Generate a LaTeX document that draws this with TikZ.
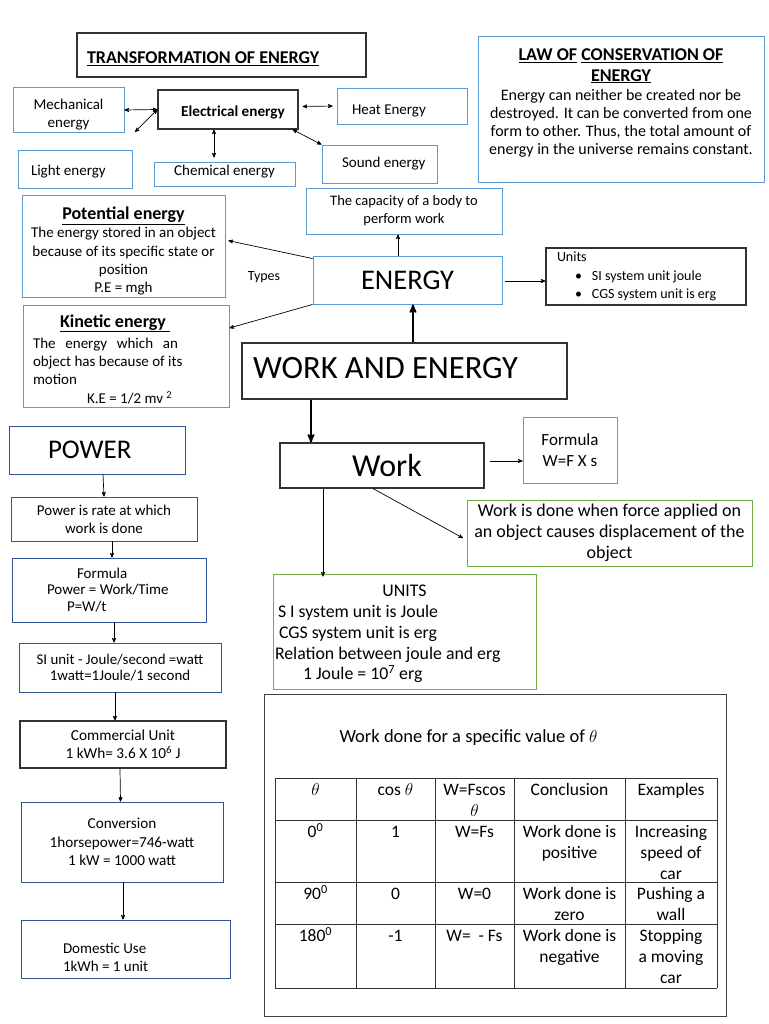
\documentclass[tikz,border=0pt]{standalone}
\usepackage{fontspec}
\setmainfont{Carlito}
\usepackage{tikz}
\usetikzlibrary{arrows,calc}

\definecolor{boxblue}{RGB}{91,155,213}
\definecolor{boxdark}{RGB}{47,85,151}
\definecolor{boxgreen}{RGB}{112,173,71}
\newcommand{\setfs}[2]{\fontsize{#1}{#2}\selectfont}

\begin{document}
\begin{tikzpicture}[x=1pt, y=-1pt, >=stealth',
  mapbox/.style={draw, rectangle, line width=0.9pt, inner sep=2pt, align=center, font=\setfs{15}{18.3}},
  bluebox/.style={mapbox, draw=boxblue},
  darkbox/.style={mapbox, draw=boxdark},
  greenbox/.style={mapbox, draw=boxgreen, font=\setfs{17.8}{20.8}},
  blackbox/.style={mapbox, draw=black!80, line width=1.1pt},
  link/.style={->, line width=0.7pt},
  twoway/.style={<->, line width=0.7pt},
  heavy/.style={->, line width=1.8pt},
  cell/.style={anchor=north, inner sep=0pt, align=center, font=\setfs{17.5}{21}},
  tablerule/.style={line width=0.8pt, draw=black!80}]

\useasboundingbox (0,0) rectangle (768,1024);
\fill[white] (0,0) rectangle (768,1024);

% transformation of energy
\node[blackbox, minimum width=289pt, minimum height=44pt, font=\setfs{18}{20}\bfseries] (transtitle) at (221.5,55) {\raisebox{-4pt}[\height][\depth]{\makebox[269pt][l]{\underline{TRANSFORMATION OF ENERGY}}}};
\node[bluebox, minimum width=111pt, minimum height=40pt] (mech) at (68.5,110) {\rule{0pt}{20pt}Mechanical\\energy};
\node[blackbox, minimum width=140pt, minimum height=39pt, font=\setfs{15.2}{17}\bfseries] (elec) at (228,109.5) {\raisebox{-3pt}[\height][\depth]{\hspace*{10pt}Electrical energy}};
\node[bluebox, minimum width=130pt, minimum height=36pt] (heat) at (402,106) {\raisebox{-5pt}[\height][\depth]{\makebox[116pt][l]{\hspace*{8pt}Heat Energy}}};
\node[bluebox, minimum width=114pt, minimum height=38pt] (light) at (75,169) {\raisebox{-3pt}[\height][\depth]{\makebox[100pt][l]{\hspace*{6pt}Light energy}}};
\node[bluebox, minimum width=141pt, minimum height=24pt] (chem) at (224.5,174) {\raisebox{2pt}[\height][\depth]{Chemical energy}};
\node[bluebox, minimum width=115pt, minimum height=38pt] (sound) at (379.5,164) {\makebox[100pt][l]{\hspace*{12.5pt}Sound energy}};
\coordinate (lightend) at (135,132);

\draw[twoway] (mech.east) -- (elec.west);
\draw[twoway] (elec.west) -- (lightend);
\draw[twoway, shorten <=4pt, shorten >=4pt] ([yshift=3pt]elec.east) -- (heat.west);
\draw[twoway, shorten >=4pt] ([xshift=-14pt]elec.south) -- ([xshift=-10.5pt]chem.north);
\draw[twoway] ([xshift=-6pt]elec.south east) -- (sound.north west);

% conservation law
\node[bluebox, minimum width=286pt, minimum height=146pt, font=\setfs{16}{18.2}] (law) at (621,109) {{\setfs{18}{20}\bfseries\underline{LAW OF} \underline{CONSERVATION OF}}\\[2pt] {\setfs{18}{20}\bfseries\underline{ENERGY}}\\[1pt] Energy can neither be created nor be\\ destroyed. It can be converted from one\\ form to other. Thus, the total amount of\\ energy in the universe remains constant.\rule[-14pt]{0pt}{14pt}};

% energy
\node[bluebox, minimum width=196pt, minimum height=46pt, font=\setfs{14.5}{18}] (capacity) at (404,211) {The capacity of a body to\\perform work};
\node[bluebox, minimum width=189pt, minimum height=48pt, font=\setfs{28.5}{30}] (energy) at (407.5,280) {ENERGY};
\node[blackbox, minimum width=200pt, minimum height=57pt, font=\setfs{14}{18.5}] (units) at (646,276.5) {\makebox[178pt][l]{Units}\\ \makebox[178pt][l]{\hspace*{18pt}\textbullet\hspace{10pt}SI system unit joule}\\ \makebox[178pt][l]{\hspace*{18pt}\textbullet\hspace{10pt}CGS system unit is erg}};
\node[bluebox, minimum width=203pt, minimum height=97pt] (potential) at (123.5,246.5) {\rule{0pt}{22pt}{\setfs{18}{20}\bfseries\underline{Potential energy}}\\ The energy stored in an object\\ because of its specific state or\\ position\\ P.E = mgh};
\node[bluebox, minimum width=206pt, minimum height=102pt] (kinetic) at (126,356) {\makebox[186pt][l]{\rule{0pt}{19pt}\hspace*{27pt}{\setfs{18}{20}\bfseries\underline{Kinetic energy\ }}}\\[3pt] \makebox[186pt][l]{\makebox[145pt][s]{The energy which an}}\\ \makebox[186pt][l]{object has because of its}\\ \makebox[186pt][l]{motion}\\ \makebox[186pt][l]{\hspace*{54pt}K.E = 1/2 mv \textsuperscript{2}}};
\node[font=\setfs{14}{17}] (types) at (264,277) {Types};
\node[blackbox, minimum width=325pt, minimum height=56pt, font=\setfs{32.5}{36}] (workenergy) at (404.5,371) {\raisebox{3pt}[\height][\depth]{\makebox[303pt][l]{WORK AND ENERGY}}};

\draw[link] ([xshift=-9.5pt]energy.north) -- ([xshift=-6pt]capacity.south);
\draw[link, shorten <=3pt] ([yshift=-1pt]energy.east) -- ([yshift=-4.5pt]units.west);
\draw[link, shorten >=3pt] ([yshift=-3pt]energy.north west) -- ([yshift=6.5pt]potential.east);
\draw[link] (energy.south west) -- ([yshift=28pt]kinetic.east);
\draw[heavy] ([xshift=8.5pt]workenergy.north) -- ([xshift=5.5pt]energy.south);

% power
\node[darkbox, minimum width=176pt, minimum height=48pt, font=\setfs{27}{30}] (power) at (97,450) {\makebox[98pt][l]{POWER}};
\node[darkbox, minimum width=186pt, minimum height=44pt] (powrate) at (104,519) {Power is rate at which\\work is done};
\node[darkbox, minimum width=194pt, minimum height=64pt, font=\setfs{15}{16.8}] (powformula) at (109,590) {\makebox[170pt][l]{\hspace*{53pt}Formula}\\ \makebox[170pt][l]{\hspace*{23pt}Power = Work/Time}\\ \makebox[170pt][l]{\hspace*{43pt}P=W/t}};
\node[darkbox, minimum width=202pt, minimum height=49pt, font=\setfs{14.9}{16.5}] (siunit) at (120,667.5) {SI unit - Joule/second =watt\\ 1watt=1Joule/1 second};
\node[blackbox, minimum width=206pt, minimum height=47pt, font=\setfs{15.3}{18}] (commercial) at (123,744.5) {Commercial Unit\\ 1 kWh= 3.6 X 10\textsuperscript{6} J};
\node[darkbox, minimum width=202pt, minimum height=80pt, font=\setfs{15.2}{18.5}] (conversion) at (122,842) {Conversion\\ 1horsepower=746-watt\\ 1 kW = 1000 watt};
\node[darkbox, minimum width=209pt, minimum height=58pt, font=\setfs{15}{18}] (domestic) at (125.5,949) {\makebox[125pt][l]{\rule{0pt}{27pt}Domestic Use}\\ \makebox[125pt][l]{1kWh = 1 unit}};

\foreach \from/\to/\a/\b in {power/powrate/6/0, powrate/powformula/8/3, powformula/siunit/5/-6, siunit/commercial/-5/-8, commercial/conversion/-3/-1.5, conversion/domestic/1/-2.5}
  \draw[link] ([xshift=\a pt]\from.south) -- ([xshift=\b pt]\to.north);

% work
\node[blackbox, minimum width=204pt, minimum height=45pt, font=\setfs{32}{36}] (work) at (382,465.5) {\hspace*{10pt}Work};
\node[greenbox, minimum width=94pt, minimum height=66pt, font=\setfs{17}{21}] (formula) at (570,450) {Formula\\W=F X s};
\node[greenbox, minimum width=285pt, minimum height=66pt, font=\setfs{18}{21}] (workdone) at (609.5,533) {Work is done when force applied on\\ an object causes displacement of the\\ object};
\node[greenbox, minimum width=263pt, minimum height=115pt] (unitswork) at (404.5,631.5) {\rule{0pt}{16.5pt}UNITS\\ \makebox[253pt][l]{S I system unit is Joule}\\ \makebox[253pt][l]{\hspace*{1pt}CGS system unit is erg}\\ \makebox[253pt][l]{\hspace*{-3pt}Relation between joule and erg}\\ \makebox[253pt][l]{\hspace*{25pt}1 Joule = 10\textsuperscript{7} erg}};

\draw[heavy] ([xshift=-93.5pt]workenergy.south) -- ([xshift=-71pt]work.north);
\draw[link, shorten <=5pt] ([yshift=4.5pt]work.east) -- ([yshift=-11pt]formula.west);
\draw[link, shorten >=4pt] ([xshift=-9pt]work.south) -- ([yshift=-7pt]workdone.west);
\draw[link] ([xshift=-59pt]work.south) -- ([xshift=-81.5pt, yshift=-3pt]unitswork.north);

% table of work done
\node[draw=black!75, line width=1pt, minimum width=462pt, minimum height=322pt] (tableframe) at (495,855) {};
\node[font=\setfs{18.5}{20}, anchor=west] (tabletitle) at (336,738) {Work done for a specific value of $\theta$};

\foreach \x in {275,356,435,514,625,717}
  \draw[tablerule] (\x,778) -- (\x,988);
\foreach \y in {778,820,882,924,988}
  \draw[tablerule] (275,\y) -- (717,\y);

\foreach \r/\rowy/\ca/\cb/\cc/\cd/\ce in {
  1/778/{$\theta$}/{cos $\theta$}/{W=Fscos\\$\theta$}/{Conclusion}/{Examples},
  2/820/{0\textsuperscript{0}}/{1}/{W=Fs}/{Work done is\\positive}/{Increasing\\speed of\\car},
  3/882/{90\textsuperscript{0}}/{0}/{W=0}/{Work done is\\zero}/{Pushing a\\wall},
  4/924/{180\textsuperscript{0}}/{-1}/{W=\ \ - Fs}/{Work done is\\negative}/{Stopping\\a moving\\car}}
{
  \node[cell] (cell\r-a) at (315.5,\rowy+3) {\strut\ca};
  \node[cell] (cell\r-b) at (395.5,\rowy+3) {\strut\cb};
  \node[cell] (cell\r-c) at (474.5,\rowy+3) {\strut\cc};
  \node[cell] (cell\r-d) at (569.5,\rowy+3) {\strut\cd};
  \node[cell] (cell\r-e) at (671,\rowy+3) {\strut\ce};
}

\end{tikzpicture}
\end{document}
